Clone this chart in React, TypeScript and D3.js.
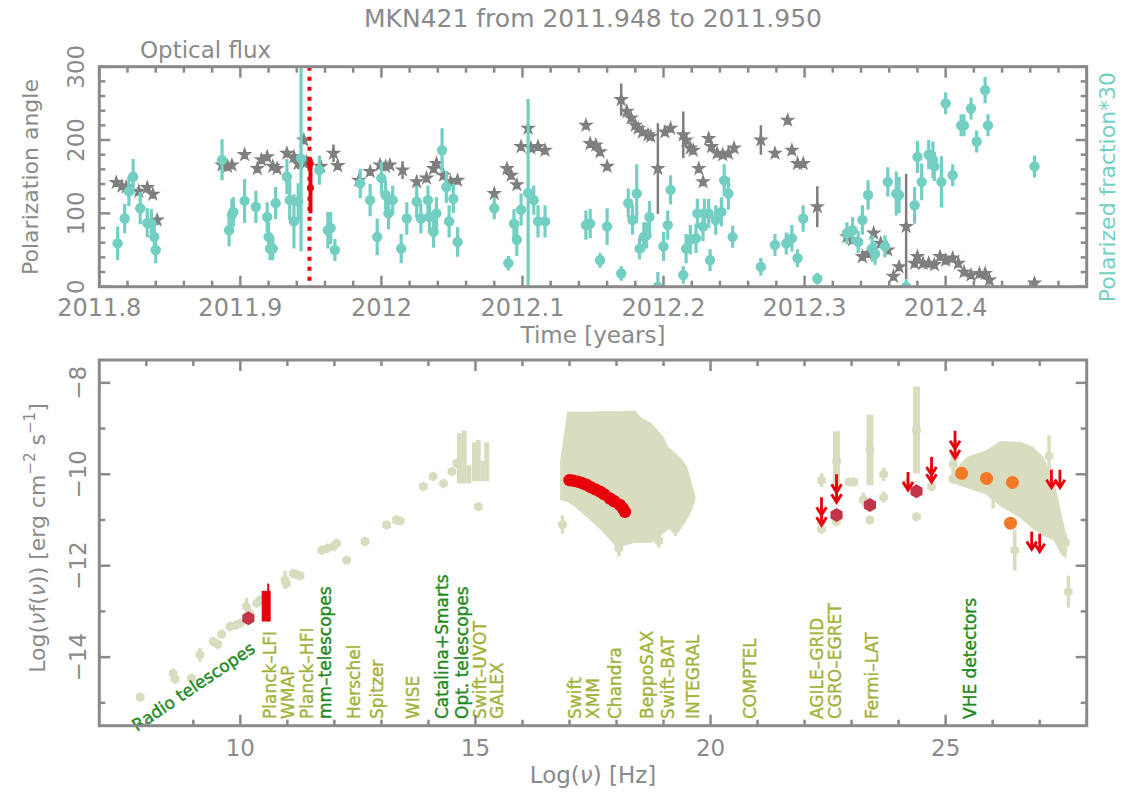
import React from 'react';
import * as d3 from 'd3';

// ---------- top panel: polarization angle (grey stars) ----------
const angleTime = [
  2011.812, 2011.816, 2011.819, 2011.828, 2011.834, 2011.838, 2011.841,
  2011.887, 2011.891, 2011.894, 2011.903, 2011.912, 2011.915, 2011.919, 2011.923, 2011.926,
  2011.933, 2011.938, 2011.941, 2011.945, 2011.947, 2011.957, 2011.966, 2011.969,
  2011.984, 2011.992, 2011.999, 2012.003, 2012.006, 2012.015, 2012.025, 2012.032, 2012.037,
  2012.039, 2012.044, 2012.049, 2012.054,
  2012.080, 2012.089, 2012.092, 2012.096, 2012.099, 2012.104, 2012.106, 2012.111, 2012.116,
  2012.145, 2012.148, 2012.152, 2012.155, 2012.160,
  2012.170, 2012.174, 2012.177, 2012.180, 2012.182, 2012.185, 2012.189, 2012.191, 2012.196,
  2012.201, 2012.205, 2012.214, 2012.216, 2012.219, 2012.221, 2012.225, 2012.228, 2012.232,
  2012.234, 2012.238, 2012.242, 2012.246, 2012.250,
  2012.269, 2012.279, 2012.288, 2012.291, 2012.295, 2012.299, 2012.309,
  2012.330, 2012.334, 2012.341, 2012.345, 2012.349, 2012.354, 2012.359,
  2012.363, 2012.367, 2012.372, 2012.378, 2012.380, 2012.384, 2012.388, 2012.392, 2012.396,
  2012.400, 2012.405, 2012.409, 2012.413, 2012.418, 2012.424, 2012.428, 2012.431, 2012.463,
];
const angleVal = [
  142, 137, 136, 130, 135, 126, 91,
  166, 164, 166, 180, 161, 173, 177, 164, 161,
  182, 177, 168, 200, 170, 164, 182, 165,
  145, 157, 166, 164, 166, 159, 143, 148, 161,
  168, 152, 143, 145,
  127, 161, 152, 139, 191, 216, 189, 191, 186,
  220, 195, 193, 184, 164,
  255, 239, 230, 220, 216, 211, 207, 205, 161,
  211, 216, 207, 200, 189, 186, 161, 143, 202,
  191, 182, 180, 182, 189,
  200, 182, 227, 186, 168, 168, 109,
  68, 64, 41, 45, 73, 59, 50,
  14, 27, 82, 32, 41, 32, 32, 30, 41,
  36, 39, 32, 20, 16, 18, 18, 9, 5,
];
const angleErr = [
  6, 5, 5, 6, 6, 6, 7,
  8, 6, 6, 6, 6, 6, 6, 6, 6,
  6, 6, 8, 6, 8, 8, 12, 6,
  6, 6, 6, 6, 6, 12, 6, 6, 6,
  6, 6, 6, 6,
  6, 6, 6, 6, 6, 6, 6, 6, 6,
  6, 6, 6, 6, 6,
  22, 6, 6, 6, 6, 6, 6, 6, 62,
  6, 6, 32, 8, 6, 6, 6, 6, 6,
  6, 6, 6, 6, 6,
  20, 6, 6, 6, 6, 6, 28,
  6, 6, 6, 6, 6, 6, 6,
  6, 6, 72, 6, 6, 6, 6, 6, 6,
  6, 6, 6, 6, 6, 6, 6, 6, 4,
];

// ---------- top panel: polarized fraction * 30 (teal) ----------
const fracTime = [
  2011.813, 2011.818, 2011.821, 2011.824, 2011.829, 2011.834, 2011.837, 2011.839, 2011.840,
  2011.887, 2011.892, 2011.894, 2011.895, 2011.903, 2011.911, 2011.919, 2011.920, 2011.921,
  2011.923, 2011.925, 2011.933, 2011.935, 2011.938, 2011.941, 2011.943,
  2011.956, 2011.962, 2011.964, 2011.967, 2011.985, 2011.992, 2011.997, 2012.000, 2012.003,
  2012.005, 2012.008, 2012.014, 2012.018, 2012.025, 2012.028, 2012.033, 2012.034, 2012.037,
  2012.039, 2012.043, 2012.046, 2012.048, 2012.051, 2012.054,
  2012.080, 2012.090, 2012.094, 2012.096, 2012.099, 2012.104, 2012.108, 2012.111, 2012.116,
  2012.145, 2012.148, 2012.155, 2012.160, 2012.170, 2012.175, 2012.178, 2012.181, 2012.183,
  2012.186, 2012.188, 2012.190, 2012.196, 2012.200, 2012.203, 2012.205, 2012.214, 2012.216,
  2012.219, 2012.223, 2012.224, 2012.228, 2012.229, 2012.232, 2012.233, 2012.237, 2012.241,
  2012.243, 2012.246, 2012.249,
  2012.269, 2012.279, 2012.287, 2012.291, 2012.295, 2012.299, 2012.309,
  2012.330, 2012.334, 2012.338, 2012.341, 2012.345, 2012.348, 2012.350, 2012.357, 2012.359,
  2012.365, 2012.367, 2012.372, 2012.378, 2012.380, 2012.383, 2012.388, 2012.391, 2012.392,
  2012.397, 2012.400, 2012.405, 2012.411, 2012.413, 2012.418, 2012.422, 2012.428, 2012.430,
  2012.463,
];
const fracVal = [
  59, 93, 130, 150, 107, 87, 86, 68, 50,
  173, 77, 98, 102, 117, 109, 95, 68, 52,
  52, 114, 150, 118, 89, 116, 175,
  159, 77, 80, 50, 141, 118, 68, 148, 125,
  100, 118, 52, 93, 116, 93, 118, 95, 75,
  100, 186, 136, 89, 120, 61,
  107, 32, 86, 64, 105, 128, 118, 89, 89,
  84, 86, 36, 82, 18, 114, 91, 127, 52,
  68, 70, 95, 0, 55, 84, 132, 16, 52,
  64, 66, 100, 82, 100, 100, 36, 91, 102,
  145, 127, 68,
  27, 57, 59, 66, 39, 93, 11,
  73, 77, 61, 91, 125, 52, 45, 55, 143,
  127, 125, 0, 111, 177, 143, 180, 173, 164,
  143, 250, 152, 220, 220, 243, 198, 268, 220,
  164,
];
const fracErr = [
  23, 20, 20, 24, 22, 20, 20, 15, 18,
  28, 22, 22, 20, 30, 22, 20, 20, 16,
  16, 22, 24, 27, 37, 25, 127,
  20, 25, 22, 15, 20, 22, 25, 22, 20,
  22, 20, 20, 22, 22, 20, 20, 22, 22,
  22, 30, 22, 22, 20, 20,
  15, 10, 20, 22, 22, 128, 20, 22, 22,
  20, 20, 10, 25, 10, 20, 20, 40, 15,
  20, 18, 22, 20, 20, 20, 20, 12, 20,
  20, 20, 20, 20, 20, 20, 15, 20, 20,
  22, 22, 15,
  12, 15, 15, 18, 12, 18, 8,
  15, 18, 15, 20, 20, 18, 15, 15, 20,
  30, 25, 10, 25, 22, 25, 20, 25, 20,
  35, 15, 15, 15, 15, 15, 15, 18, 15,
  15,
];

// red points at the SED epoch
const nowTime = [2011.9495, 2011.9497];
const nowVal = [168, 135];
const nowErr = [8, 35];
const sedEpoch = 2011.949;

const timeTicks = [2011.8, 2011.9, 2012, 2012.1, 2012.2, 2012.3, 2012.4];
const timeTickLabels = ['2011.8', '2011.9', '2012', '2012.1', '2012.2', '2012.3', '2012.4'];
const angleTicks = [0, 100, 200, 300];

// ---------- bottom panel: SED ----------
// archival points (khaki)
const archNu = [
  7.87, 8.57, 8.61, 8.96, 9.14, 9.42, 9.52, 9.6, 9.78, 9.9, 10.0, 10.13, 10.2, 10.35, 10.42,
  10.95, 10.98, 11.13, 11.2, 11.27, 11.73, 11.85, 11.98, 12.05, 12.26, 12.65, 13.11, 13.32, 13.4,
  13.89, 14.1, 14.32, 14.5, 14.6, 15.06,
  16.85, 18.05, 18.9, 19.25,
  22.36, 22.36, 22.36, 22.68, 22.68, 22.95, 23.05, 23.25, 23.39, 23.39, 23.68, 23.68, 24.17, 24.38, 24.38,
  24.7, 25.16, 25.15, 25.2, 26.01, 26.47, 27.2, 27.55, 27.61,
];
const archFlux = [
  -14.87, -14.35, -14.48, -14.46, -13.95, -13.66, -13.72, -13.5, -13.33, -13.3, -13.26, -12.9, -13.05, -12.82, -12.75,
  -12.31, -12.39, -12.17, -12.2, -12.22, -11.66, -11.62, -11.58, -11.51, -11.88, -11.47, -11.11, -11.0, -11.02,
  -10.27, -10.05, -10.2, -9.94, -9.76, -10.71,
  -11.1, -11.62, -11.45, -11.2,
  -10.13, -11.04, -11.2, -9.72, -11.04, -10.17, -10.17, -10.55, -9.47, -11.0, -10.0, -10.5, -10.2, -9.03, -10.93,
  -10.27, -9.78, -10.1, -9.6, -10.45, -11.66, -9.6, -11.5, -12.57,
];
const archErr = [
  0.05, 0.1, 0.05, 0.05, 0.15, 0.1, 0.05, 0.05, 0.1, 0.05, 0.1, 0.2, 0.1, 0.05, 0.1,
  0.2, 0.05, 0.1, 0.05, 0.05, 0.05, 0.05, 0.05, 0.05, 0.05, 0.05, 0.05, 0.05, 0.05,
  0.05, 0.05, 0.05, 0.05, 0.05, 0.05,
  0.2, 0.18, 0.15, 0.15,
  0.15, 0.2, 0.05, 0.66, 0.05, 0.05, 0.05, 0.15, 0.77, 0.05, 0.15, 0.12, 0.08, 0.95, 0.05,
  0.05, 0.3, 0.1, 0.15, 0.3, 0.45, 0.45, 0.2, 0.35,
];
// optical/UV archival bands
const optNu = [14.66, 14.76, 14.86, 14.98, 15.06, 15.16, 15.24];
const optTop = [-9.1, -9.05, -9.8, -9.3, -9.25, -9.7, -9.3];
const optBottom = [-10.2, -10.2, -10.2, -10.15, -10.15, -10.15, -10.15];
// X-ray archival envelope
const xrayNu = [16.8, 16.95, 17.1, 17.4, 17.7, 18.0, 18.4, 18.5, 18.75, 19.0, 19.1, 19.35, 19.5, 19.6, 19.68];
const xrayHi = [-9.72, -8.63, -8.63, -8.63, -8.62, -8.62, -8.61, -8.74, -8.89, -9.18, -9.4, -9.62, -9.83, -10.2, -10.49];
const xrayLo = [-10.56, -10.6, -10.7, -10.97, -11.25, -11.6, -11.5, -11.5, -11.5, -11.3, -11.2, -11.22, -11.0, -10.8, -10.55];
// TeV archival envelope
const tevNu = [25.15, 25.45, 25.87, 26.16, 26.58, 26.86, 27.08, 27.3, 27.45, 27.57];
const tevHi = [-9.95, -9.62, -9.47, -9.27, -9.29, -9.4, -9.62, -10.1, -10.8, -11.35];
const tevLo = [-10.2, -10.3, -10.45, -10.7, -10.95, -11.2, -11.35, -11.45, -11.75, -11.85];

// simultaneous data
const xrayNowNu = [17.0, 17.08, 17.17, 17.26, 17.36, 17.45, 17.55, 17.65, 17.74, 17.86, 17.95, 18.07, 18.13, 18.18];
const xrayNowFlux = [-10.13, -10.14, -10.16, -10.19, -10.23, -10.28, -10.33, -10.38, -10.44, -10.53, -10.59, -10.67, -10.74, -10.82];
const radioNowNu = [10.55];
const radioNowTop = [-12.55];
const radioNowBottom = [-13.22];
const radioNowTip = [-12.39];
const hexNu = [10.17, 22.68, 23.39, 24.38];
const hexFlux = [-13.15, -10.89, -10.67, -10.37];
const vheNu = [25.34, 25.87, 26.42, 26.38];
const vheFlux = [-9.98, -10.09, -10.18, -11.07];
const ulNu = [22.36, 22.36, 22.68, 22.68, 24.2, 24.7, 24.7, 25.2, 25.2, 26.83, 27.0, 27.25, 27.43];
const ulFlux = [-10.5, -10.72, -10.0, -10.22, -9.95, -9.62, -9.78, -9.05, -9.25, -11.25, -11.3, -9.9, -9.9];

const nuTicks = [10, 15, 20, 25];
const fluxTicks = [-8, -10, -12, -14];
const fluxTickLabels = ['\u22128', '\u221210', '\u221212', '\u221214'];

const instrNames = [
  'Planck\u2013LFI', 'WMAP', 'Planck\u2013HFI', 'mm\u2013telescopes', 'Herschel', 'Spitzer', 'WISE',
  'Catalina+Smarts', 'Opt. telescopes', 'Swift\u2013UVOT', 'GALEX', 'Swift', 'XMM', 'Chandra',
  'BeppoSAX', 'Swift\u2013BAT', 'INTEGRAL', 'COMPTEL', 'AGILE\u2013GRID', 'CGRO\u2013EGRET',
  'Fermi\u2013LAT', 'VHE detectors',
];
const instrNu = [
  10.63, 11.02, 11.41, 11.8, 12.42, 12.9, 13.68, 14.28, 14.71, 15.1, 15.45, 17.12, 17.51, 17.97,
  18.64, 19.1, 19.63, 20.84, 22.26, 22.65, 23.43, 25.52,
];
const instrGround = [
  false, false, false, true, false, false, false, true, true, false, false, false, false, false,
  false, false, false, false, false, false, false, true,
];

const GREY = '#8a8a8a';
const TEAL = '#74cfc3';
const KHAKI = '#dadcc0';
const RED = '#e6000c';
const FONT = 'DejaVu Sans, sans-serif';

const hexPath = (r) =>
  'M' + d3.range(6).map((i) => `${(r * Math.cos((i * Math.PI) / 3 + Math.PI / 6)).toFixed(2)},${(r * Math.sin((i * Math.PI) / 3 + Math.PI / 6)).toFixed(2)}`).join('L') + 'Z';

const App = () => {
  const L = 99.3;
  const R = 1086.7;
  const x1 = d3.scaleLinear().domain([2011.8, 2012.5]).range([L, R]);
  const y1 = d3.scaleLinear().domain([0, 300]).range([286.7, 66.7]);
  const x2 = d3.scaleLinear().domain([7, 28]).range([L, R]);
  const y2 = d3.scaleLinear().domain([-15.5, -7.5]).range([725.7, 360]);

  const star = d3.symbol(d3.symbolStar, 78)();
  const hex = hexPath(7);
  const smallHex = hexPath(5);

  // ticks on all four sides of both frames
  const tMinor = d3.range(0, 36).map((i) => 2011.8 + i * 0.02);
  const aMinor = d3.range(0, 16).map((i) => i * 20);
  const nMinor = d3.range(8, 28);
  const fMinor = d3.range(-15, -7);

  const tickLines = [];
  tMinor.forEach((t, i) => {
    const len = i % 5 === 0 ? 11 : 6;
    tickLines.push([x1(t), y1.range()[0], x1(t), y1.range()[0] - len]);
    tickLines.push([x1(t), y1.range()[1], x1(t), y1.range()[1] + len]);
  });
  aMinor.forEach((a) => {
    const len = a % 100 === 0 ? 11 : 6;
    tickLines.push([L, y1(a), L + len, y1(a)]);
    tickLines.push([R, y1(a), R - len, y1(a)]);
  });
  nMinor.forEach((n) => {
    const len = n % 5 === 0 ? 11 : 6;
    tickLines.push([x2(n), 725.7, x2(n), 725.7 - len]);
    tickLines.push([x2(n), 360, x2(n), 360 + len]);
  });
  fMinor.forEach((f) => {
    const len = f % 2 === 0 ? 11 : 6;
    tickLines.push([L, y2(f), L + len, y2(f)]);
    tickLines.push([R, y2(f), R - len, y2(f)]);
  });

  const envelope = d3
    .area()
    .x((d) => x2(d[0]))
    .y0((d) => y2(d[1]))
    .y1((d) => y2(d[2]));
  const xrayPath = envelope(xrayNu.map((n, i) => [n, xrayLo[i], xrayHi[i]]));
  const tevPath = envelope(tevNu.map((n, i) => [n, tevLo[i], tevHi[i]]));

  return (
    <svg
      width={1121}
      height={793}
      style={{ position: 'absolute', left: 0, top: 0, background: '#fff' }}
      fontFamily={FONT}
    >
      <defs>
        <clipPath id="topClip">
          <rect x={L} y={66.7} width={R - L} height={220} />
        </clipPath>
      </defs>

      {/* title */}
      <text x={593} y={27} textAnchor="middle" fontSize={25} fill={GREY}>
        MKN421 from 2011.948 to 2011.950
      </text>
      <text x={140} y={58} fontSize={23} fill={GREY}>
        Optical flux
      </text>

      {/* ---------- top panel ---------- */}
      <g clipPath="url(#topClip)">
        {angleTime.map((t, i) => (
          <line
            key={'ae' + i}
            x1={x1(t)}
            x2={x1(t)}
            y1={y1(angleVal[i] - angleErr[i])}
            y2={y1(angleVal[i] + angleErr[i])}
            stroke="#7f7f7f"
            strokeWidth={2.5}
          />
        ))}
        {angleTime.map((t, i) => (
          <path key={'as' + i} d={star} transform={`translate(${x1(t)},${y1(angleVal[i])})`} fill="#7f7f7f" />
        ))}
        {fracTime.map((t, i) => (
          <line
            key={'fe' + i}
            x1={x1(t)}
            x2={x1(t)}
            y1={y1(fracVal[i] - fracErr[i])}
            y2={y1(fracVal[i] + fracErr[i])}
            stroke={TEAL}
            strokeWidth={3.2}
          />
        ))}
        {fracTime.map((t, i) => (
          <circle key={'fc' + i} cx={x1(t)} cy={y1(fracVal[i])} r={5.2} fill={TEAL} />
        ))}
        <line
          x1={x1(sedEpoch)}
          x2={x1(sedEpoch)}
          y1={y1(300)}
          y2={y1(0)}
          stroke={RED}
          strokeWidth={4}
          strokeDasharray="4 6"
        />
        {nowTime.map((t, i) => (
          <line
            key={'ne' + i}
            x1={x1(t)}
            x2={x1(t)}
            y1={y1(nowVal[i] - nowErr[i])}
            y2={y1(nowVal[i] + nowErr[i])}
            stroke={RED}
            strokeWidth={4}
          />
        ))}
        {nowTime.map((t, i) => (
          <circle key={'nc' + i} cx={x1(t)} cy={y1(nowVal[i])} r={3.5} fill={RED} />
        ))}
      </g>
      <rect x={L} y={66.7} width={R - L} height={220} fill="none" stroke={GREY} strokeWidth={3} />

      {timeTicks.map((t, i) => (
        <text key={'tt' + i} x={x1(t)} y={316} textAnchor="middle" fontSize={24} fill={GREY}>
          {timeTickLabels[i]}
        </text>
      ))}
      {angleTicks.map((a) => (
        <text
          key={'at' + a}
          transform={`translate(76,${y1(a)}) rotate(-90)`}
          textAnchor="middle"
          dominantBaseline="central"
          fontSize={23}
          fill={GREY}
        >
          {a}
        </text>
      ))}
      <text x={593} y={343} textAnchor="middle" fontSize={23} fill={GREY}>
        Time [years]
      </text>
      <text transform="translate(38,177) rotate(-90)" textAnchor="middle" fontSize={22} fill={GREY}>
        Polarization angle
      </text>
      <text transform="translate(1115,187) rotate(-90)" textAnchor="middle" fontSize={22} fill={TEAL}>
        Polarized fraction*30
      </text>

      {/* ---------- bottom panel ---------- */}
      <path d={xrayPath} fill={KHAKI} />
      <path d={tevPath} fill={KHAKI} />
      {optNu.map((n, i) => (
        <line
          key={'op' + i}
          x1={x2(n)}
          x2={x2(n)}
          y1={y2(optTop[i])}
          y2={y2(optBottom[i])}
          stroke={KHAKI}
          strokeWidth={5}
        />
      ))}
      {archNu.map((n, i) => (
        <line
          key={'ge' + i}
          x1={x2(n)}
          x2={x2(n)}
          y1={y2(archFlux[i] - archErr[i])}
          y2={y2(archFlux[i] + archErr[i])}
          stroke={KHAKI}
          strokeWidth={archErr[i] > 0.5 ? 7 : 3.5}
        />
      ))}
      {archNu.map((n, i) => (
        <path key={'gp' + i} d={smallHex} transform={`translate(${x2(n)},${y2(archFlux[i])})`} fill={KHAKI} />
      ))}

      {radioNowNu.map((n, i) => (
        <g key={'rn' + i}>
          <line x1={x2(n) + 2} x2={x2(n) + 2} y1={y2(radioNowTip[i])} y2={y2(radioNowBottom[i])} stroke={RED} strokeWidth={2} />
          <line x1={x2(n)} x2={x2(n)} y1={y2(radioNowTop[i])} y2={y2(radioNowBottom[i])} stroke={RED} strokeWidth={9} />
        </g>
      ))}
      {xrayNowNu.map((n, i) => (
        <circle key={'xn' + i} cx={x2(n)} cy={y2(xrayNowFlux[i])} r={6.2} fill={RED} />
      ))}
      {hexNu.map((n, i) => (
        <path key={'hx' + i} d={hex} transform={`translate(${x2(n)},${y2(hexFlux[i])})`} fill="#c23447" />
      ))}
      {vheNu.map((n, i) => (
        <circle key={'vh' + i} cx={x2(n)} cy={y2(vheFlux[i])} r={6.5} fill="#f27a26" />
      ))}
      {ulNu.map((n, i) => (
        <path
          key={'ul' + i}
          d="M0,0V18M-5,10L0,18L5,10"
          transform={`translate(${x2(n)},${y2(ulFlux[i])})`}
          fill="none"
          stroke={RED}
          strokeWidth={2.8}
        />
      ))}

      {instrNames.map((name, i) => (
        <text
          key={'in' + i}
          transform={`translate(${x2(instrNu[i])},719) rotate(-90)`}
          dominantBaseline="central"
          fontSize={17}
          fill={instrGround[i] ? '#1f8a1f' : '#a4b23c'}
          stroke={instrGround[i] ? '#1f8a1f' : '#a4b23c'}
          strokeWidth={0.4}
        >
          {name}
        </text>
      ))}
      <text
        transform={`translate(${x2(7.8)},732) rotate(-34)`}
        fontSize={17}
        fill="#1f8a1f"
        stroke="#1f8a1f"
        strokeWidth={0.4}
      >
        Radio telescopes
      </text>

      <rect x={L} y={360} width={R - L} height={365.7} fill="none" stroke={GREY} strokeWidth={3} />
      {tickLines.map((t, i) => (
        <line key={'tk' + i} x1={t[0]} y1={t[1]} x2={t[2]} y2={t[3]} stroke={GREY} strokeWidth={2.5} />
      ))}

      {nuTicks.map((n) => (
        <text key={'nt' + n} x={x2(n)} y={756} textAnchor="middle" fontSize={23} fill={GREY}>
          {n}
        </text>
      ))}
      {fluxTicks.map((f, i) => (
        <text
          key={'ft' + f}
          transform={`translate(78,${y2(f)}) rotate(-90)`}
          textAnchor="middle"
          dominantBaseline="central"
          fontSize={23}
          fill={GREY}
        >
          {fluxTickLabels[i]}
        </text>
      ))}
      <text x={593} y={783} textAnchor="middle" fontSize={23} fill={GREY}>
        Log(<tspan fontStyle="italic">ν</tspan>) [Hz]
      </text>
      <text transform="translate(45,538) rotate(-90)" textAnchor="middle" fontSize={22} fill={GREY}>
        Log(<tspan fontStyle="italic">ν</tspan>f(<tspan fontStyle="italic">ν</tspan>)) [erg cm
        <tspan dy={-10} fontSize={15}>−2</tspan>
        <tspan dy={10}> s</tspan>
        <tspan dy={-10} fontSize={15}>−1</tspan>
        <tspan dy={10}>]</tspan>
      </text>
    </svg>
  );
};

export default App;
